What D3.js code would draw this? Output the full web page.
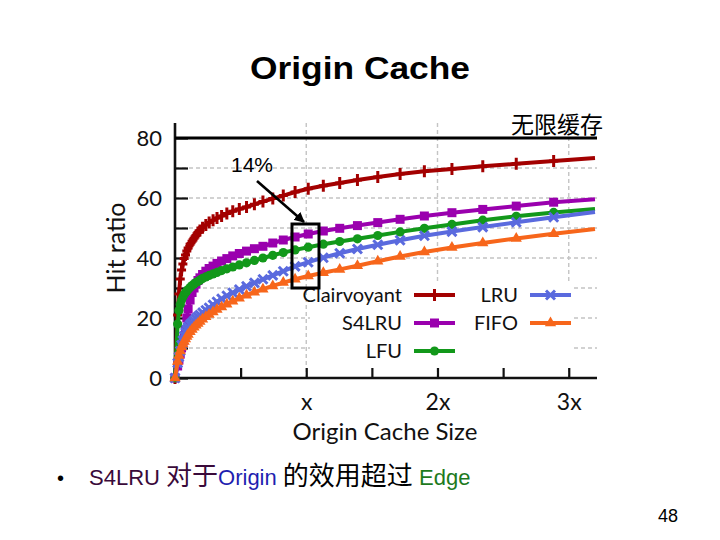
<!DOCTYPE html>
<html>
<head>
<meta charset="utf-8">
<script src="https://cdn.jsdelivr.net/npm/d3@7"></script>
<style>
  html, body { margin: 0; padding: 0; background: #fff; }
  svg { display: block; }
</style>
</head>
<body>
<svg id="chart" width="720" height="540"></svg>
<script>
// ---------------- data ----------------
const cacheSizes = [0, 0.02, 0.03, 0.04, 0.05, 0.06, 0.07, 0.08, 0.09, 0.10,
  0.115, 0.13, 0.145, 0.16, 0.175, 0.19, 0.21, 0.235, 0.26, 0.29,
  0.32, 0.355, 0.395, 0.44, 0.49, 0.545, 0.605, 0.67, 0.745, 0.825,
  0.915, 1.015, 1.13, 1.255, 1.39, 1.545, 1.715, 1.9, 2.11, 2.345,
  2.6, 2.885, 3.2];
const clairvoyant = [0, 21, 28, 33, 36, 38, 39.8, 41, 42.3, 43.3,
  44.6, 45.6, 46.6, 47.5, 48.5, 49.2, 50.1, 51, 51.8, 52.6,
  53.3, 54, 54.8, 55.6, 56.3, 57, 57.9, 58.8, 59.8, 60.8,
  62, 63.1, 64.1, 65, 66, 67, 68, 68.9, 69.7, 70.6,
  71.4, 72.3, 73.3];
const s4lru = [0, 4, 6, 8, 10, 12, 13.5, 16, 20, 23,
  26, 28.5, 30, 31.3, 32.5, 33.4, 34.5, 35.6, 36.5, 37.3,
  38.2, 39, 39.8, 40.7, 41.5, 42.3, 43.1, 43.9, 45, 46,
  47, 48, 49, 49.9, 50.8, 51.8, 52.9, 54, 55.1, 56.2,
  57.3, 58.6, 59.6];
const lfu = [0, 18, 22.5, 24.5, 26, 27, 27.8, 28.5, 29, 29.5,
  30.2, 30.8, 31.3, 31.8, 32.2, 32.6, 33.2, 33.7, 34.2, 34.7,
  35.2, 35.8, 36.4, 37, 37.7, 38.4, 39.2, 40, 40.9, 41.8,
  42.7, 43.6, 44.6, 45.5, 46.4, 47.5, 48.7, 49.9, 51.2, 52.6,
  53.9, 55.2, 56.3];
const lru = [0, 5, 7, 9, 11, 12.5, 14, 15.2, 16.2, 17,
  17.8, 18.4, 19.1, 19.8, 20.4, 21, 21.8, 22.6, 23.4, 24.4,
  25.4, 26.4, 27.4, 28.4, 29.5, 30.6, 31.7, 32.9, 34.2, 35.6,
  37.2, 38.6, 40.1, 41.6, 43, 44.4, 45.9, 47.4, 48.8, 50.3,
  51.9, 53.6, 55.3];
const fifo = [0, 5.5, 7.5, 9, 10.3, 11.3, 12.2, 13, 13.8, 14.5,
  15.4, 16.2, 16.9, 17.6, 18.2, 18.8, 19.6, 20.4, 21.2, 22,
  22.8, 23.7, 24.6, 25.6, 26.6, 27.6, 28.6, 29.6, 30.7, 31.8,
  32.9, 34, 35.1, 36.2, 37.4, 38.9, 40.5, 42, 43.5, 45,
  46.5, 48.1, 49.7];
const seriesNames = ["Clairvoyant", "S4LRU", "LFU", "LRU", "FIFO"];
const infiniteCache = 80;
const yTickLabels = [0, 20, 40, 60, 80];
const xTickValues = [0.5, 1, 1.5, 2, 2.5, 3];
const xTickLabels = ["", "x", "", "2x", "", "3x"];

// ---------------- setup ----------------
const seriesColors = ["#a30000", "#9a00ae", "#12981a", "#5a6ade", "#f7661b"];
const seriesMarkers = ["plus", "square", "circle", "x", "triangle"];
const seriesValues = [clairvoyant, s4lru, lfu, lru, fifo];
const series = seriesNames.map((n, i) => ({name: n, values: seriesValues[i], color: seriesColors[i], marker: seriesMarkers[i]}));

const svg = d3.select("#chart");
const x = d3.scaleLinear().domain([0, 3.2]).range([175, 595]);
const y = d3.scaleLinear().domain([0, 80]).range([378, 138]);
const chartFont = "Lato, 'Open Sans', sans-serif";
const arial = "'Liberation Sans', Arial, sans-serif";
const cjk = "'Noto Sans CJK SC', sans-serif";

function markerPath(type) {
  switch (type) {
    case "plus": return "M0,-6V6M-4.5,0H4.5";
    case "x": return "M-4.5,-4.5L4.5,4.5M-4.5,4.5L4.5,-4.5";
    case "square": return d3.symbol(d3.symbolSquare, 81)();
    case "circle": return d3.symbol(d3.symbolCircle, 66)();
    case "triangle": return d3.symbol(d3.symbolTriangle, 55)();
  }
}
function styleMarker(sel, s) {
  if (s.marker === "plus" || s.marker === "x") {
    sel.attr("fill", "none").attr("stroke", s.color).attr("stroke-width", 3);
  } else {
    sel.attr("fill", s.color).attr("stroke", "none");
  }
}

// Title
svg.append("text").attr("x", 250).attr("y", 79)
  .attr("font-family", arial).attr("font-weight", "bold")
  .attr("font-size", 32).attr("textLength", 220).attr("lengthAdjust", "spacingAndGlyphs")
  .attr("fill", "#000").text("Origin Cache");

// Grid
const grid = svg.append("g");
grid.selectAll("line.h").data([10, 20, 30, 40, 50, 60, 70]).join("line")
  .attr("x1", x(0)).attr("x2", 597).attr("y1", d => y(d)).attr("y2", d => y(d))
  .attr("stroke", "#c4c4c4").attr("stroke-width", 1.4).attr("stroke-dasharray", "4,3");
grid.selectAll("line.v").data([1, 2, 3]).join("line")
  .attr("x1", d => x(d)).attr("x2", d => x(d)).attr("y1", 123).attr("y2", y(0))
  .attr("stroke", "#c4c4c4").attr("stroke-width", 1.4).attr("stroke-dasharray", "4,3");

// Axes
const yAxis = d3.axisLeft(y).tickValues([0, 10, 20, 30, 40, 50, 60, 70, 80])
  .tickSize(-13).tickSizeOuter(0).tickPadding(13)
  .tickFormat(d => yTickLabels.includes(d) ? d : "");
const gy = svg.append("g").attr("transform", `translate(${x(0)},0)`).call(yAxis);
gy.select(".domain").remove();
gy.selectAll(".tick line").attr("stroke", "#111").attr("stroke-width", 2.2);
gy.selectAll(".tick text").attr("font-family", chartFont).attr("font-size", 22).attr("fill", "#111");

const xAxis = d3.axisBottom(x).tickValues(xTickValues).tickSize(-10).tickSizeOuter(0)
  .tickPadding(16).tickFormat((d, i) => xTickLabels[i]);
const gx = svg.append("g").attr("transform", `translate(0,${y(0)})`).call(xAxis);
gx.select(".domain").remove();
gx.selectAll(".tick line").attr("stroke", "#111").attr("stroke-width", 2.2);
gx.selectAll(".tick text").attr("font-family", chartFont).attr("font-size", 23).attr("fill", "#111");

svg.append("line").attr("x1", x(0)).attr("x2", x(0)).attr("y1", 123).attr("y2", y(0) + 1)
  .attr("stroke", "#111").attr("stroke-width", 2.6);
svg.append("line").attr("x1", x(0) - 1).attr("x2", 597).attr("y1", y(0)).attr("y2", y(0))
  .attr("stroke", "#111").attr("stroke-width", 2.6);

// axis titles
svg.append("text").attr("x", 385).attr("y", 440).attr("text-anchor", "middle")
  .attr("font-family", chartFont).attr("font-size", 24).attr("fill", "#111").text("Origin Cache Size");
svg.append("text").attr("transform", "translate(125,248) rotate(-90)").attr("text-anchor", "middle")
  .attr("font-family", chartFont).attr("font-size", 25).attr("fill", "#111").text("Hit ratio");

// infinite cache line
svg.append("line").attr("x1", x(0)).attr("x2", 597).attr("y1", y(infiniteCache)).attr("y2", y(infiniteCache))
  .attr("stroke", "#000").attr("stroke-width", 3.2);
svg.append("text").attr("x", 603).attr("y", 133).attr("text-anchor", "end")
  .attr("font-family", cjk).attr("font-size", 23).attr("fill", "#000").text("无限缓存");

// legend background
svg.append("rect").attr("x", 310).attr("y", 283).attr("width", 264).attr("height", 83).attr("fill", "#fff");

// Series
const line = d3.line().x((d, i) => x(cacheSizes[i])).y(d => y(d));
series.forEach(s => {
  const g = svg.append("g");
  g.append("path").attr("d", line(s.values)).attr("fill", "none")
    .attr("stroke", s.color).attr("stroke-width", 4).attr("stroke-linejoin", "round");
  const pts = s.values.slice(0, s.values.length - 1);
  g.selectAll("path.m").data(pts).join("path").attr("class", "m")
    .attr("d", markerPath(s.marker))
    .attr("transform", (d, i) => `translate(${x(cacheSizes[i])},${y(d)})`)
    .call(sel => styleMarker(sel, s));
});

// Legend
const legendPos = [
  {tx: 402, lx: 414, y: 295}, {tx: 402, lx: 414, y: 323}, {tx: 402, lx: 414, y: 351},
  {tx: 518, lx: 530, y: 295}, {tx: 518, lx: 530, y: 323}
];
series.forEach((s, i) => {
  const p = legendPos[i];
  svg.append("text").attr("x", p.tx).attr("y", p.y + 7).attr("text-anchor", "end")
    .attr("font-family", chartFont).attr("font-size", 20).attr("fill", "#111").text(s.name);
  svg.append("line").attr("x1", p.lx).attr("x2", p.lx + 41).attr("y1", p.y).attr("y2", p.y)
    .attr("stroke", s.color).attr("stroke-width", 4);
  svg.append("path").attr("d", markerPath(s.marker))
    .attr("transform", `translate(${p.lx + 20.5},${p.y})`).call(sel => styleMarker(sel, s));
});

// annotation box and arrow
svg.append("rect").attr("x", 292).attr("y", 224).attr("width", 27).attr("height", 64)
  .attr("fill", "none").attr("stroke", "#000").attr("stroke-width", 3);
svg.append("defs").append("marker").attr("id", "arrow").attr("viewBox", "0 0 10 10")
  .attr("refX", 9).attr("refY", 5).attr("markerWidth", 4).attr("markerHeight", 4)
  .attr("orient", "auto").append("path").attr("d", "M0,0L10,5L0,10z").attr("fill", "#000");
svg.append("line").attr("x1", 257).attr("y1", 181).attr("x2", 304).attr("y2", 222)
  .attr("stroke", "#000").attr("stroke-width", 2.6).attr("marker-end", "url(#arrow)");
svg.append("text").attr("x", 231).attr("y", 172)
  .attr("font-family", arial).attr("font-size", 21).attr("fill", "#000").text("14%");

// bullet text
svg.append("text").attr("x", 57).attr("y", 485).attr("font-family", arial).attr("font-size", 20)
  .attr("fill", "#000").text("•");
const bullet = svg.append("text").attr("x", 89).attr("y", 485).attr("font-family", arial).attr("font-size", 22);
bullet.append("tspan").attr("fill", "#3a0a3a").text("S4LRU ");
bullet.append("tspan").attr("fill", "#3a0a3a").attr("font-family", cjk).attr("font-size", 26).text("对于");
bullet.append("tspan").attr("fill", "#1f1fb0").text("Origin ");
bullet.append("tspan").attr("fill", "#000").attr("font-family", cjk).attr("font-size", 26).text("的效用超过");
bullet.append("tspan").attr("fill", "#1d7a1d").text(" Edge");

// page number
svg.append("text").attr("x", 678).attr("y", 522).attr("text-anchor", "end")
  .attr("font-family", arial).attr("font-size", 18).attr("fill", "#000").text("48");
</script>
</body>
</html>
